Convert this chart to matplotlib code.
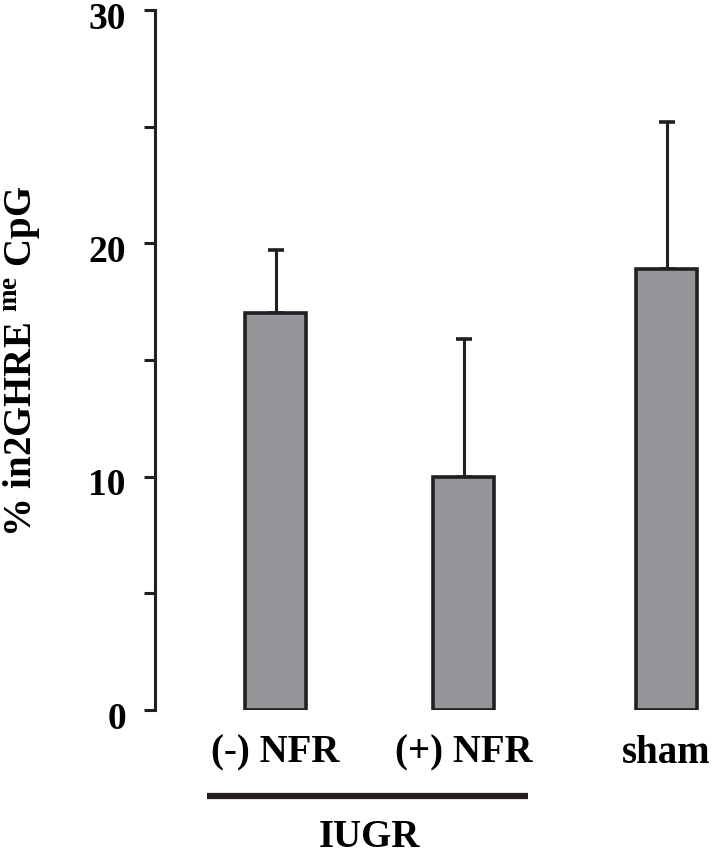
import numpy as np
import matplotlib
matplotlib.use("Agg")
import matplotlib.pyplot as plt
from matplotlib.transforms import ScaledTranslation

plt.rcParams['font.family'] = ['Liberation Serif', 'DejaVu Serif']
plt.rcParams['font.weight'] = 'bold'
plt.rcParams['mathtext.fontset'] = 'custom'
plt.rcParams['mathtext.bf'] = 'Liberation Serif:bold'
plt.rcParams['mathtext.rm'] = 'Liberation Serif:bold'

# data
categories = ['(-) NFR', '(+) NFR', 'sham']
means = [17.0, 10.0, 18.9]
err_up = [2.7, 5.9, 6.3]
y_ticks = [0, 5, 10, 15, 20, 25, 30]
y_ticklabels = ['0', '', '10', '', '20', '', '30']
group_label = 'IUGR'

# layout
pos = np.array([0, 1, 2.08])
bar_w = 0.325

fig = plt.figure(figsize=(7.16, 8.53), dpi=100)
ax = fig.add_axes([155/716, 142/853, 561/716, 700/853])

ax.errorbar(pos, means, yerr=[np.zeros(len(means)), err_up], fmt='none',
            ecolor='#231f20', elinewidth=2.2, capsize=6, capthick=2.6, zorder=1)
ax.bar(pos, means, width=bar_w, color='#939598', edgecolor='#231f20',
       linewidth=2.6, zorder=2)

ax.set_xlim(-0.641, 2.343)
ax.set_ylim(0, 30)
ax.set_yticks(y_ticks)
ax.set_yticklabels(y_ticklabels, fontsize=27, fontweight='bold')
ax.set_xticks(pos)
ax.set_xticklabels(categories, fontsize=28, fontweight='bold')
ax.tick_params(axis='x', length=0, pad=17)
ax.tick_params(axis='y', length=8, width=2.2, pad=13, color='#231f20')

# tick numbers sit a little below their ticks in the original
shift = ScaledTranslation(0, -3/72, fig.dpi_scale_trans)
for lab in ax.get_yticklabels():
    lab.set_transform(lab.get_transform() + shift)

for s in ['top', 'right', 'bottom']:
    ax.spines[s].set_visible(False)
ax.spines['left'].set_linewidth(2.2)
ax.spines['left'].set_color('#231f20')

# IUGR bracket line under first two groups
trans = ax.get_xaxis_transform()
ax.plot([pos[0] - 0.364, pos[1] + 0.343], [-0.123, -0.123], transform=trans,
        color='#231f20', lw=4.5, clip_on=False, solid_capstyle='butt')
ax.text((pos[0] + pos[1]) / 2, -0.154, group_label, transform=trans,
        ha='center', va='top', fontsize=28, fontweight='bold')

fig.text(22/716, 1 - 361/853, r'% in2GHRE $^{\mathbf{me}}$ CpG', rotation=90,
         ha='center', va='center', fontsize=28, fontweight='bold')

fig.savefig('out.png', dpi=100)
